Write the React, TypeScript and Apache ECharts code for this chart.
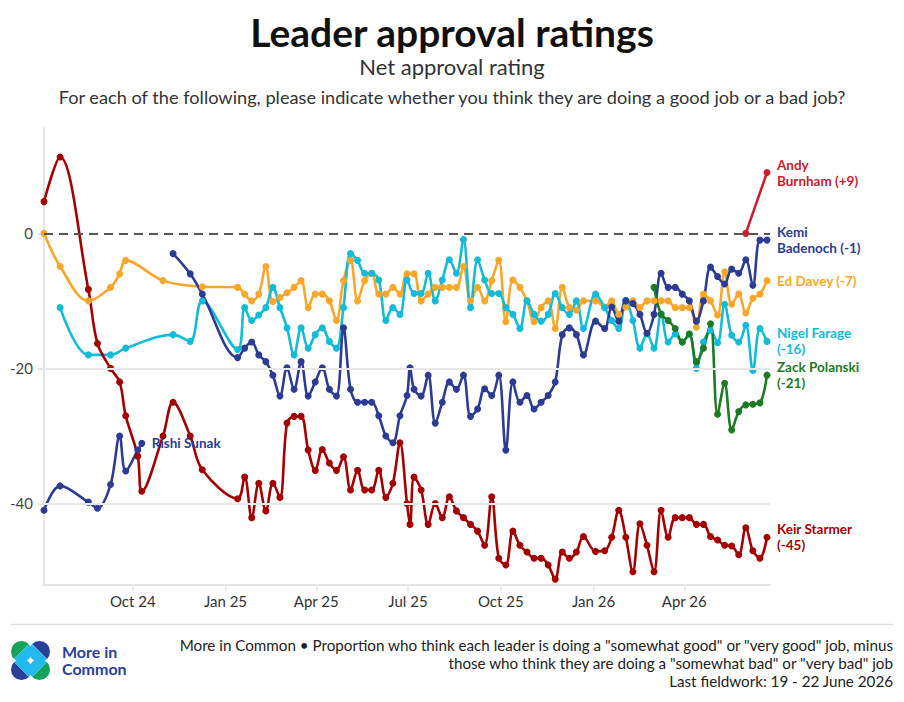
import React, { useEffect, useRef } from "react";
import * as echarts from "echarts";

const FONT = 'Lato, "Noto Sans", sans-serif';

// Poll dates (fieldwork), shared by the main series
const DATES_2024 = [
  "2024-07-05", "2024-07-21", "2024-08-18", "2024-08-27", "2024-09-09", "2024-09-18", "2024-09-24",
  "2024-10-06", "2024-10-10", "2024-10-31", "2024-11-10", "2024-11-27", "2024-12-09",
];
const DATES_2025 = [
  "2025-01-13", "2025-01-20", "2025-01-27", "2025-02-03", "2025-02-10", "2025-02-17", "2025-02-24",
  "2025-03-03", "2025-03-10", "2025-03-17", "2025-03-24", "2025-03-31", "2025-04-07", "2025-04-14",
  "2025-04-21", "2025-04-28", "2025-05-05", "2025-05-12", "2025-05-19", "2025-05-26", "2025-06-02",
  "2025-06-09", "2025-06-16", "2025-06-23", "2025-06-30", "2025-07-03", "2025-07-07", "2025-07-14",
  "2025-07-21", "2025-07-28", "2025-08-04", "2025-08-11", "2025-08-18", "2025-08-25", "2025-09-01",
  "2025-09-08", "2025-09-15", "2025-09-22", "2025-09-29", "2025-10-06", "2025-10-13", "2025-10-20",
  "2025-10-27", "2025-11-03", "2025-11-10", "2025-11-17", "2025-11-24", "2025-12-01", "2025-12-08",
  "2025-12-15", "2025-12-22",
];
const DATES_2026 = [
  "2026-01-03", "2026-01-12", "2026-01-19", "2026-01-26", "2026-02-02", "2026-02-09", "2026-02-16",
  "2026-02-23", "2026-03-02", "2026-03-09", "2026-03-16", "2026-03-23", "2026-03-30", "2026-04-06",
  "2026-04-13", "2026-04-20", "2026-04-27", "2026-05-04", "2026-05-11", "2026-05-18", "2026-05-25",
  "2026-06-01", "2026-06-08", "2026-06-15", "2026-06-22",
];
const DATES = [...DATES_2024, ...DATES_2025, ...DATES_2026];

const N = null;

const STARMER = [
  4.7, 11.3, -8.3, -16.3, -20, -22, -27, -33, -38.2, -30, -25, -30, -35,
  -39.3, -36.1, -42.1, -37, -41.1, -37, -39.1, -28.1, -27.1, -27.1, -32.1, -35.1, -32, -34, -35.1,
  -33.1, -38, -35.1, -38, -38, -35.1, -39.1, -37, -31, -40, -43.1,
  -36.1, -38, -43.1, -40, -42.1, -39, -41.1, -42.1, -43.1, -44.1, -46.2, -39, -48.1, -49.1, -44.1,
  -46.2, -47.2, -48.1, -48.1, -49.1, -51.2, -47.2, -48.1, -47.2, -44.9,
  -47.1, -47, -45, -41, -45, -50.1, -43, -46.2, -50.1, -41, -45, -42.1, -42.1, -42.1, -43.1, -43.1,
  -44.9, -45.4, -46.2, -46.3, -47.6, -43.6, -47, -48.1, -45,
];

const DAVEY = [
  0, -4.9, -10, N, -8, -6, -4, N, N, -7, N, N, -7.9,
  -8, -9, -10, -9, -4.9, -10.1, -9.5, -8.8, -8, -7, -11, -9, -9, -10, -12.9, -7, -4, -10, -7, -5.9,
  -9, -9, -8, -9, -6, N,
  -6, -10, -9, -8, -8, -8, -8, -4.9, -10, -8, -10, -7, -4, -13.1, -6.9, -8, -10, -13.1, -11, -10,
  -14.1, -8, -11, -11.4, -10,
  -10, -10.9, -10, -12, -10.9, -10, -11, -10, -10, -10, -10, -11, -11, -11, -13.9, -9, -10, -12.1,
  -5.7, -10.5, -9, -11.8, -9.6, -9, -7,
];

const FARAGE = [
  N, -11, -18, N, -18, N, -17, N, N, N, -15, -16, -10,
  -17.2, -11, -12.9, -12.1, -11, -8, -11, -14, -18, -14, -17, -15, -14, -16, -17, -11, -3, -4, -5.9,
  -5.9, -6.9, -12.9, -11, -12, -6.9, N,
  -8.9, -8.9, -5.9, -10, -6.9, -3.9, -5.9, -0.9, -11, -3.9, -6.9, -8.9, -8.9, -11, -12, -14.1, -10,
  -12, -13, -12, -8.9, -11, -12, -10, -14.1,
  -9, -11, -12.9, -14.1, -9.9, -12.9, -17, -14.9, -17, -11.9, -16.1, -14.9, -16.1, -14.9, -20, -16.1,
  -14.4, -16.2, -10.5, -15.1, -16.1, -13.6, -20.3, -14.1, -16,
];

const BADENOCH = [
  N, N, N, N, N, N, N, N, N, N, -3, -6, -9,
  -18.4, -17, -16.1, -18, -19, -21, -24.1, -19.9, -23.1, -19, -24.1, -22, -19.9, -23.1, -24.1, -14,
  -23.1, -25, -25, -25, -27, -30, -31, -27, -24, -19.9,
  -23.1, -24.1, -21, -28.1, -25, -22, -23.1, -21, -27.1, -26, -23, -24, -21, -32.1, -22, -25, -24,
  -26, -25, -24, -22, -15, -14, -15, -18,
  -13, -14.1, -10.9, -13, -10, -10.4, -12, -14.8, -12, -5.9, -8, -8, -9, -10, -13, -10, -5, -6.4,
  -7.5, -5.3, -5.9, -3.9, -7.7, -1, -1,
];

const SUNAK_DATES = [
  "2024-07-05", "2024-07-21", "2024-08-18", "2024-08-27", "2024-09-09", "2024-09-18", "2024-09-24",
  "2024-10-06", "2024-10-10",
];
const SUNAK = [-41, -37.4, -39.8, -40.7, -37.2, -30, -35.2, -32.1, -31.1];

const POLANSKI_DATES = [
  "2026-03-02", "2026-03-09", "2026-03-16", "2026-03-23", "2026-03-30", "2026-04-06", "2026-04-13",
  "2026-04-20", "2026-04-27", "2026-05-04", "2026-05-11", "2026-05-18", "2026-05-25", "2026-06-01",
  "2026-06-08", "2026-06-15", "2026-06-22",
];
const POLANSKI = [-8, -12, -12.9, -14.1, -16.1, -14.9, -19, -17, -13.4, -26.8, -22.2, -29.1, -26.4, -25.4, -25.3, -25.1, -21];

const BURNHAM_DATES = ["2026-06-01", "2026-06-22"];
const BURNHAM = [0, 9];

const TICK_DATES = ["2024-10-01", "2025-01-01", "2025-04-01", "2025-07-01", "2025-10-01", "2026-01-01", "2026-04-01"];
const TICK_LABELS = ["Oct 24", "Jan 25", "Apr 25", "Jul 25", "Oct 25", "Jan 26", "Apr 26"];
const Y_TICKS = [-40, -20, 0];
const X_MIN = "2024-07-05";
const X_MAX = "2026-06-25";

const COLORS = {
  starmer: "#a40000",
  burnham: "#c8202c",
  blue: "#2c3b93",
  davey: "#f9a72b",
  farage: "#12bbd8",
  polanski: "#1d7a23",
};

function ts(s: string): number {
  const [y, m, d] = s.split("-").map(Number);
  return Date.UTC(y, m - 1, d);
}

function pairs(dates: string[], vals: (number | null)[]) {
  return dates
    .map((d, i) => [ts(d), vals[i]] as [number, number | null])
    .filter((p) => p[1] !== null);
}

function lineSeries(name: string, data: any[], color: string, label: string) {
  return {
    type: "line",
    name,
    data,
    smooth: 0.35,
    symbol: "circle",
    symbolSize: 7,
    showSymbol: true,
    showAllSymbol: true,
    z: 3,
    lineStyle: { width: 2.6, color },
    itemStyle: { color },
    emphasis: { disabled: true },
    endLabel: {
      show: true,
      formatter: label,
      color,
      fontFamily: FONT,
      fontWeight: "bold",
      fontSize: 13.5,
      lineHeight: 16,
      distance: 10,
    },
  };
}

export default function App() {
  const ref = useRef<HTMLDivElement>(null);

  useEffect(() => {
    if (!ref.current) return;
    const chart = echarts.init(ref.current, undefined, { renderer: "svg" });

    const tickTs = TICK_DATES.map(ts);
    const logoCircles = [
      { cx: 21.5, cy: 651.5, color: "#17a25a", a: Math.PI / 4 },
      { cx: 39.5, cy: 651.5, color: "#2a3f9a", a: (3 * Math.PI) / 4 },
      { cx: 21.5, cy: 669.5, color: "#2a3f9a", a: -Math.PI / 4 },
      { cx: 39.5, cy: 669.5, color: "#17a25a", a: (-3 * Math.PI) / 4 },
    ];
    const logo: any[] = [];
    logoCircles.forEach((c) => {
      logo.push({
        type: "sector",
        shape: { cx: c.cx, cy: c.cy, r: 10.5, r0: 0, startAngle: c.a + Math.PI / 2, endAngle: c.a + (3 * Math.PI) / 2, clockwise: true },
        style: { fill: c.color },
      });
      logo.push({
        type: "sector",
        shape: { cx: c.cx, cy: c.cy, r: 10.5, r0: 0, startAngle: c.a - Math.PI / 2, endAngle: c.a + Math.PI / 2, clockwise: true },
        style: { fill: "#22b9ec" },
      });
    });

    const txt = (text: string, x: number, y: number, size: number, opts: any = {}) => ({
      type: "text",
      x,
      y,
      style: {
        text,
        fontFamily: FONT,
        fontSize: size,
        fontWeight: opts.weight || "normal",
        fill: opts.fill || "#222",
        textAlign: opts.align || "left",
        align: opts.align || "left",
        textVerticalAlign: "middle",
        verticalAlign: "middle",
      },
    });

    chart.setOption({
      animation: false,
      backgroundColor: "#ffffff",
      grid: { left: 44, right: 134, top: 128, bottom: 117.5, containLabel: false },
      xAxis: {
        type: "value",
        min: ts(X_MIN),
        max: ts(X_MAX),
        axisLine: { show: true, onZero: false, lineStyle: { color: "#e4e4e4", width: 2 } },
        axisTick: { show: true, customValues: tickTs, length: 7, lineStyle: { color: "#e4e4e4", width: 1.5 } },
        axisLabel: {
          customValues: tickTs,
          color: "#333",
          fontFamily: FONT,
          fontSize: 15,
          margin: 9,
          formatter: (v: number) => {
            const i = tickTs.findIndex((t) => Math.abs(t - v) < 86400000);
            return i >= 0 ? TICK_LABELS[i] : "";
          },
        },
        splitLine: { show: false },
      },
      yAxis: {
        type: "value",
        min: -52,
        max: 15.6,
        axisLine: { show: true, lineStyle: { color: "#e4e4e4", width: 2 } },
        axisTick: { show: true, customValues: Y_TICKS, length: 6, lineStyle: { color: "#e4e4e4", width: 2 } },
        axisLabel: {
          customValues: Y_TICKS,
          color: "#444",
          fontFamily: FONT,
          fontSize: 15,
          margin: 11,
          formatter: (v: number) => (Y_TICKS.includes(v) ? String(v) : ""),
        },
        splitLine: { show: false },
      },
      series: [
        {
          type: "line",
          name: "grid",
          data: [],
          z: 1,
          silent: true,
          markLine: {
            silent: true,
            symbol: ["none", "none"],
            label: { show: false },
            animation: false,
            data: [
              { yAxis: -40, lineStyle: { color: "#e8e8e8", width: 2, type: "solid" } },
              { yAxis: -20, lineStyle: { color: "#e8e8e8", width: 2, type: "solid" } },
              { yAxis: 0, lineStyle: { color: "#555555", width: 2, type: [9, 6] } },
            ],
          },
        },
        lineSeries("Rishi Sunak", pairs(SUNAK_DATES, SUNAK), COLORS.blue, "Rishi Sunak"),
        lineSeries("Ed Davey", pairs(DATES, DAVEY), COLORS.davey, "Ed Davey (-7)"),
        lineSeries("Nigel Farage", pairs(DATES, FARAGE), COLORS.farage, "Nigel Farage\n(-16)"),
        lineSeries("Kemi Badenoch", pairs(DATES, BADENOCH), COLORS.blue, "Kemi\nBadenoch (-1)"),
        lineSeries("Zack Polanski", pairs(POLANSKI_DATES, POLANSKI), COLORS.polanski, "Zack Polanski\n(-21)"),
        lineSeries("Keir Starmer", pairs(DATES, STARMER), COLORS.starmer, "Keir Starmer\n(-45)"),
        lineSeries("Andy Burnham", pairs(BURNHAM_DATES, BURNHAM), COLORS.burnham, "Andy\nBurnham (+9)"),
      ],
      graphic: [
        txt("Leader approval ratings", 452, 32, 39, { weight: "bold", fill: "#111", align: "center" }),
        txt("Net approval rating", 452, 66, 22, { fill: "#333", align: "center" }),
        txt("For each of the following, please indicate whether you think they are doing a good job or a bad job?", 452, 97, 18.2, { fill: "#333", align: "center" }),
        { type: "line", shape: { x1: 11, y1: 624.5, x2: 893, y2: 624.5 }, style: { stroke: "#dddddd", lineWidth: 1.5 } },
        txt('More in Common \u2022 Proportion who think each leader is doing a "somewhat good" or "very good" job, minus', 893, 645, 15.2, { align: "right" }),
        txt('those who think they are doing a "somewhat bad" or "very bad" job', 893, 663, 15.2, { align: "right" }),
        txt("Last fieldwork: 19 - 22 June 2026", 893, 681, 15.2, { align: "right" }),
        ...logo,
        txt("More in", 62, 651, 16, { weight: "bold", fill: "#2a3f9a" }),
        txt("Common", 62, 668.5, 16, { weight: "bold", fill: "#2a3f9a" }),
      ],
    });

    return () => chart.dispose();
  }, []);

  return (
    <div
      ref={ref}
      style={{ position: "fixed", left: 0, top: 0, width: 904, height: 702, background: "#fff" }}
    />
  );
}
